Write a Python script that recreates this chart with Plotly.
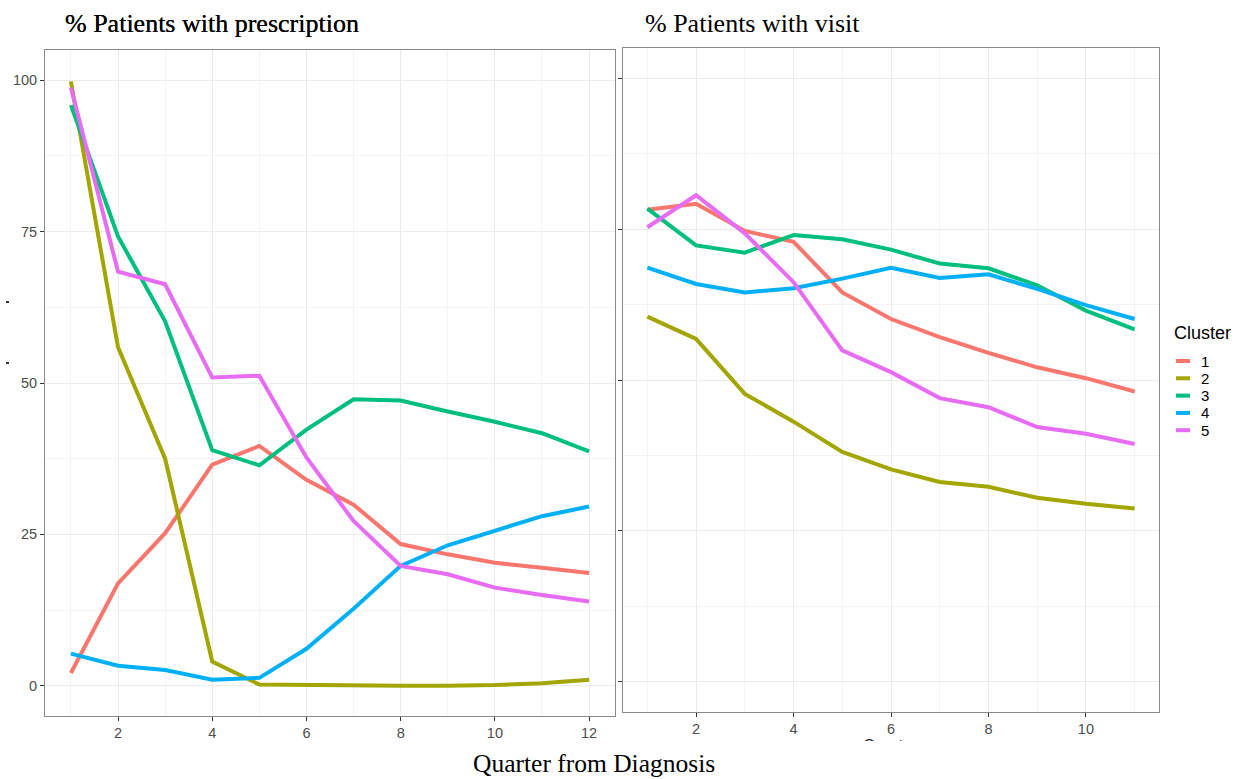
import plotly.graph_objects as go

# Quarter index for each panel
quarters_rx = list(range(1, 13))
quarters_visit = list(range(1, 12))

clusters = ["1", "2", "3", "4", "5"]
colors = ["#F8766D", "#A3A500", "#00BF7D", "#00B0F6", "#E76BF3"]

# % patients with prescription, by cluster
rx_c1 = [2.1, 16.9, 25.2, 36.5, 39.6, 34.0, 29.9, 23.4, 21.7, 20.3, 19.5, 18.6]
rx_c2 = [99.8, 55.9, 37.5, 4.0, 0.2, 0.1, 0.1, 0.0, 0.0, 0.1, 0.4, 1.0]
rx_c3 = [95.9, 74.2, 60.2, 38.9, 36.4, 42.3, 47.3, 47.1, 45.3, 43.6, 41.7, 38.7]
rx_c4 = [5.3, 3.3, 2.6, 1.0, 1.3, 6.1, 12.7, 19.8, 23.2, 25.6, 28.0, 29.6]
rx_c5 = [98.8, 68.4, 66.3, 50.9, 51.2, 37.7, 27.2, 19.8, 18.4, 16.2, 15.0, 13.9]

# % patients with visit, by cluster
visit_c1 = [78.2, 79.2, 74.7, 72.9, 64.5, 60.1, 57.1, 54.5, 52.1, 50.3, 48.1]
visit_c2 = [60.5, 56.8, 47.7, 43.1, 38.1, 35.2, 33.1, 32.3, 30.5, 29.5, 28.7]
visit_c3 = [78.4, 72.3, 71.1, 74.0, 73.3, 71.6, 69.3, 68.5, 65.7, 61.5, 58.4]
visit_c4 = [68.6, 65.9, 64.5, 65.2, 66.8, 68.6, 66.9, 67.5, 65.1, 62.4, 60.1]
visit_c5 = [75.3, 80.6, 74.3, 66.2, 54.9, 51.3, 47.0, 45.5, 42.2, 41.1, 39.4]

y_ticks = [0, 25, 50, 75, 100]
x_ticks_rx = [2, 4, 6, 8, 10, 12]
x_ticks_visit = [2, 4, 6, 8, 10]

rx_series = [rx_c1, rx_c2, rx_c3, rx_c4, rx_c5]
visit_series = [visit_c1, visit_c2, visit_c3, visit_c4, visit_c5]

W, H = 1237, 779

fig = go.Figure()

for name, col, ys in zip(clusters, colors, rx_series):
    fig.add_trace(go.Scatter(x=quarters_rx, y=ys, mode="lines", name=name,
                             line=dict(color=col, width=4),
                             xaxis="x", yaxis="y", showlegend=False))
for name, col, ys in zip(clusters, colors, visit_series):
    fig.add_trace(go.Scatter(x=quarters_visit, y=ys, mode="lines", name=name,
                             line=dict(color=col, width=4),
                             xaxis="x2", yaxis="y2", showlegend=False))

tick_font = dict(family="Liberation Sans, Arial, sans-serif", size=14.5, color="#4d4d4d")
grid_major = "#ebebeb"
grid_minor = "#f3f3f3"
border = "#8a8a8a"

def xaxis(domain, tickvals, rng, anchor):
    return dict(domain=domain, range=rng, tickvals=tickvals, anchor=anchor,
                showgrid=True, gridcolor=grid_major, gridwidth=1,
                minor=dict(tickvals=[v - 1 for v in tickvals] + [tickvals[-1] + 1],
                           showgrid=True, gridcolor=grid_minor, gridwidth=1, ticks=""),
                showline=True, linecolor=border, linewidth=1, mirror=True,
                ticks="outside", ticklen=4, tickcolor="#333333", tickwidth=1,
                tickfont=tick_font, zeroline=False)

def yaxis(domain, anchor, labels):
    return dict(domain=domain, range=[-5, 105], tickvals=y_ticks, anchor=anchor,
                showticklabels=labels,
                showgrid=True, gridcolor=grid_major, gridwidth=1,
                minor=dict(tickvals=[12.5, 37.5, 62.5, 87.5],
                           showgrid=True, gridcolor=grid_minor, gridwidth=1, ticks=""),
                showline=True, linecolor=border, linewidth=1, mirror=True,
                ticks="outside", ticklen=4, tickcolor="#333333", tickwidth=1,
                tickfont=tick_font, zeroline=False)

fig.update_layout(
    width=W, height=H,
    margin=dict(l=0, r=0, t=0, b=0),
    paper_bgcolor="white", plot_bgcolor="white",
    xaxis=xaxis([45 / W, 615 / W], x_ticks_rx, [0.45, 12.55], "y"),
    yaxis=yaxis([1 - 716 / H, 1 - 50 / H], "x", True),
    xaxis2=xaxis([623 / W, 1159 / W], x_ticks_visit, [0.5, 11.5], "y2"),
    yaxis2=yaxis([1 - 712 / H, 1 - 48 / H], "x2", False),
)

serif = "Liberation Serif, Times New Roman, serif"
annotations = []

# Panel titles (the prescription title is set slightly heavier)
for dx in (0, 0.45):
    annotations.append(dict(text="% Patients with prescription", xref="paper", yref="paper",
                            x=63 / W, y=1 - 24 / H, xanchor="left", yanchor="middle",
                            xshift=dx, showarrow=False,
                            font=dict(family=serif, size=26, color="#000000")))
annotations.append(dict(text="% Patients with visit", xref="paper", yref="paper",
                        x=643 / W, y=1 - 24 / H, xanchor="left", yanchor="middle",
                        showarrow=False, font=dict(family=serif, size=26, color="#000000")))

# Axis title of the visit panel, mostly hidden under the shared title band
annotations.append(dict(text="Quarter", xref="paper", yref="paper",
                        x=890 / W, y=1 - 745 / H, xanchor="center", yanchor="middle",
                        showarrow=False,
                        font=dict(family="Liberation Sans, Arial, sans-serif", size=16,
                                  color="#222222")))
annotations.append(dict(text=" ", xref="paper", yref="paper",
                        x=890 / W, y=1 - 741 / H, xanchor="center", yanchor="top",
                        width=140, height=30, bgcolor="white", showarrow=False,
                        borderpad=0, borderwidth=0))

# Shared x-axis title
annotations.append(dict(text="Quarter from Diagnosis", xref="paper", yref="paper",
                        x=594 / W, y=1 - 763 / H, xanchor="center", yanchor="middle",
                        showarrow=False, font=dict(family=serif, size=25.5, color="#000000")))

# Legend
annotations.append(dict(text="Cluster", xref="paper", yref="paper",
                        x=1172 / W, y=1 - 333 / H, xanchor="left", yanchor="middle",
                        showarrow=False,
                        font=dict(family="Liberation Sans, Arial, sans-serif", size=18,
                                  color="#000000")))
shapes = []
for i, (name, col) in enumerate(zip(clusters, colors)):
    yy = 361 + i * 17.3
    shapes.append(dict(type="line", xref="paper", yref="paper",
                       x0=1176 / W, x1=1190 / W, y0=1 - yy / H, y1=1 - yy / H,
                       line=dict(color=col, width=4)))
    annotations.append(dict(text=name, xref="paper", yref="paper",
                            x=1199 / W, y=1 - yy / H, xanchor="left", yanchor="middle",
                            showarrow=False,
                            font=dict(family="Liberation Sans, Arial, sans-serif", size=15,
                                      color="#000000")))

# Remnants of the clipped y-axis title at the far left
for yy in (302, 363):
    shapes.append(dict(type="line", xref="paper", yref="paper",
                       x0=6 / W, x1=9 / W, y0=1 - yy / H, y1=1 - yy / H,
                       line=dict(color="#333333", width=2)))

fig.update_layout(annotations=annotations, shapes=shapes)

fig.write_html("out.html")
